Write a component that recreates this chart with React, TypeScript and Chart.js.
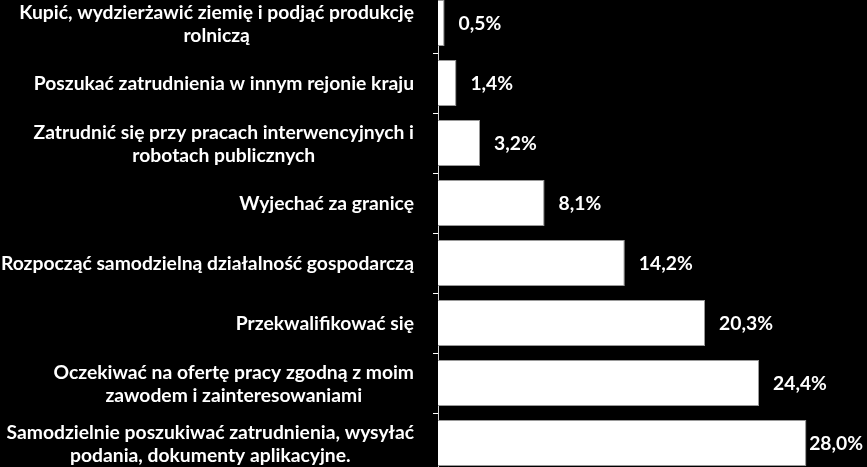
import React, { useEffect, useRef } from "react";
import { Chart, registerables } from "chart.js";

Chart.register(...registerables);

const categories: string[][] = [
  ["Kupić, wydzierżawić ziemię i podjąć produkcję", "rolniczą"],
  ["Poszukać zatrudnienia w innym rejonie kraju"],
  ["Zatrudnić się przy pracach interwencyjnych i", "robotach publicznych"],
  ["Wyjechać za granicę"],
  ["Rozpocząć samodzielną działalność gospodarczą"],
  ["Przekwalifikować się"],
  ["Oczekiwać na ofertę pracy zgodną z moim", "zawodem i zainteresowaniami"],
  ["Samodzielnie poszukiwać zatrudnienia, wysyłać", "podania, dokumenty aplikacyjne."],
];

const values: number[] = [0.5, 1.4, 3.2, 8.1, 14.2, 20.3, 24.4, 28.0];

const FONT_FAMILY = "Lato, 'Open Sans', sans-serif";

function fitFont(ctx: CanvasRenderingContext2D): number {
  ctx.font = `bold 100px ${FONT_FAMILY}`;
  const w = ctx.measureText("Rozpocząć samodzielną działalność gospodarczą").width;
  return Math.round((413 / w) * 100 * 10) / 10;
}

const labelPlugin = {
  id: "customLabels",
  afterDraw(chart: any) {
    const ctx: CanvasRenderingContext2D = chart.ctx;
    const yScale = chart.scales.y;
    const meta = chart.getDatasetMeta(0);
    const size = fitFont(ctx);
    ctx.save();
    ctx.font = `bold ${size}px ${FONT_FAMILY}`;
    ctx.fillStyle = "#ffffff";
    ctx.textBaseline = "middle";
    ctx.textAlign = "center";
    const lineH = 23;
    const rightEdge = 414;
    categories.forEach((lines, i) => {
      const yc = yScale.getPixelForValue(i) + 1;
      const blockW = Math.max(...lines.map((l) => ctx.measureText(l).width));
      const cx = rightEdge - blockW / 2;
      const y0 = yc - ((lines.length - 1) * lineH) / 2;
      lines.forEach((l, j) => ctx.fillText(l, cx, y0 + j * lineH));
    });
    ctx.textAlign = "left";
    meta.data.forEach((bar: any, i: number) => {
      const txt = values[i].toFixed(1).replace(".", ",") + "%";
      const tw = ctx.measureText(txt).width;
      const x = Math.min(bar.x + 14, chart.width - 4 - tw);
      ctx.fillText(txt, x, bar.y + 1);
    });
    ctx.restore();
  },
};

export default function App() {
  const ref = useRef<HTMLCanvasElement | null>(null);
  useEffect(() => {
    document.body.style.margin = "0";
    document.body.style.background = "#000";
    const canvas = ref.current!;
    const chart = new Chart(canvas, {
      type: "bar",
      data: {
        labels: categories.map((c) => c.join(" ")),
        datasets: [
          {
            data: values,
            backgroundColor: "#ffffff",
            borderColor: "#9a9a9a",
            borderWidth: 1,
            barPercentage: 46 / 60,
            categoryPercentage: 1,
          },
        ],
      },
      options: {
        indexAxis: "y",
        animation: false,
        responsive: false,
        maintainAspectRatio: false,
        layout: { padding: { left: 0, right: 8, top: 0, bottom: 0 } },
        plugins: { legend: { display: false }, tooltip: { enabled: false } },
        scales: {
          x: { display: false, min: 0, max: 32 },
          y: {
            display: true,
            ticks: { display: false },
            grid: {
              drawOnChartArea: false,
              drawTicks: true,
              tickLength: 5,
              color: "#ffffff",
              offset: true,
            },
            border: { display: true, color: "#d9d9d9", width: 1 },
            afterFit: (scale: any) => {
              scale.width = 438;
            },
          },
        },
      },
      plugins: [labelPlugin],
    });
    return () => chart.destroy();
  }, []);
  return (
    <div style={{ position: "relative", width: 867, height: 467, overflow: "hidden", background: "#000" }}>
      <canvas
        ref={ref}
        width={867}
        height={480}
        style={{ position: "absolute", left: 0, top: -7, width: 867, height: 480 }}
      />
    </div>
  );
}
